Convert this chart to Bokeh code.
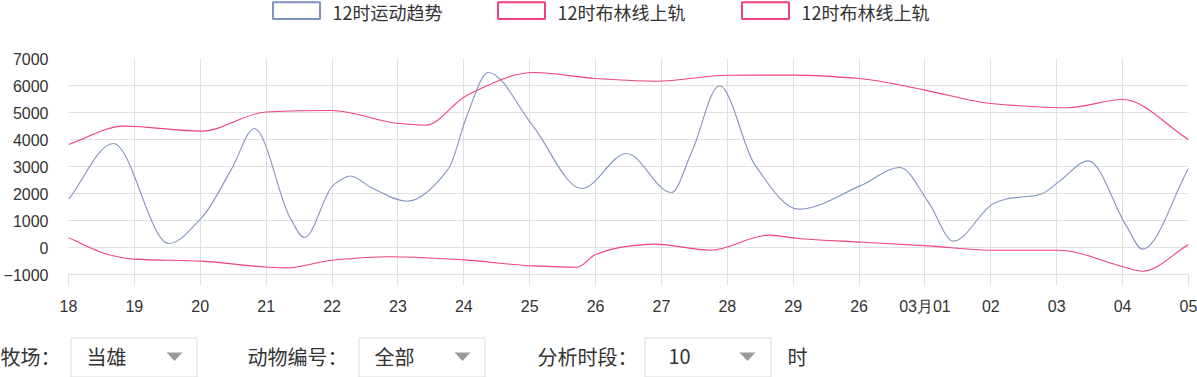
import numpy as np
from bokeh.plotting import figure
from bokeh.layouts import column
from bokeh.models import FixedTicker, Range1d, ColumnDataSource, Label, Plot
from bokeh.core.properties import value
from bokeh.embed import file_html
from bokeh.resources import INLINE

# ---------------- data ----------------
categories = ["18", "19", "20", "21", "22", "23", "24", "25", "26", "27", "28",
              "29", "26", "03月01", "02", "03", "04", "05"]
y_ticks = [-1000, 0, 1000, 2000, 3000, 4000, 5000, 6000, 7000]
y_tick_labels = ["−1000", "0", "1000", "2000", "3000", "4000", "5000", "6000", "7000"]

series_names = ["12时运动趋势", "12时布林线上轨", "12时布林线上轨"]
series_colors = ["#8093bf", "#f0407f", "#f0407f"]

# x positions are in category-index units
trend_x = [0.00, 0.68, 1.52, 2.02, 2.48, 2.82, 3.37, 3.58, 4.02, 4.28, 4.61, 5.14,
           5.77, 6.05, 6.37, 7.04, 7.79, 8.47, 9.15, 9.46, 9.88, 10.42, 11.08,
           12.04, 12.62, 13.05, 13.43, 14.04, 14.22, 14.75, 15.03, 15.48, 16.05,
           16.30, 17.00]
trend_y = [1780, 3850, 150, 1100, 2930, 4410, 1070, 370, 2310, 2650, 2200, 1715,
           2930, 4900, 6480, 4530, 2185, 3480, 2035, 3540, 5990, 3050, 1420,
           2310, 2965, 1690, 235, 1630, 1790, 1965, 2430, 3210, 830,
           -60, 2925]

upper_x = [0.00, 0.84, 2.02, 3.00, 4.00, 5.02, 5.42, 6.05, 7.06, 8.00, 8.93,
           10.00, 11.00, 12.00, 13.00, 14.00, 15.17, 16.00, 17.00]
upper_y = [3815, 4495, 4310, 5020, 5075, 4590, 4530, 5640, 6480, 6260, 6160,
           6380, 6385, 6260, 5830, 5335, 5175, 5480, 4000]

lower_x = [0.00, 0.64, 1.00, 2.02, 3.00, 3.30, 4.00, 4.88, 6.00, 7.00, 7.72,
           8.00, 8.50, 8.90, 9.74, 10.63, 11.06, 12.07, 13.05, 14.00, 15.03,
           16.01, 16.30, 17.00]
lower_y = [360, -285, -430, -505, -725, -755, -470, -345, -460, -675, -730,
           -260, 50, 125, -100, 460, 335, 195, 60, -100, -100,
           -715, -880, 110]

control_labels = ["牧场：", "动物编号：", "分析时段："]
control_values = ["当雄", "全部", "10"]
control_unit = "时"

CJK = "Noto Sans CJK SC"
TEXT = "#333333"
GRID = "#e0e0e0"

W, H = 1197, 377
FRAME_L, FRAME_R = 68, 1188
CAN_UNALIGN = "frame_align" in Plot.properties()


def smooth_segments(xs, ys):
    """Cubic Bezier control points (monotone Hermite tangents) through the data points."""
    xs = np.asarray(xs, float)
    ys = np.asarray(ys, float)
    h = np.diff(xs)
    d = np.diff(ys) / h
    n = len(xs)
    m = np.zeros(n)
    m[0], m[-1] = d[0], d[-1]
    for i in range(1, n - 1):
        if d[i - 1] * d[i] > 0:
            w1 = 2 * h[i] + h[i - 1]
            w2 = h[i] + 2 * h[i - 1]
            m[i] = (w1 + w2) / (w1 / d[i - 1] + w2 / d[i])
    return dict(x0=xs[:-1], y0=ys[:-1], x1=xs[1:], y1=ys[1:],
                cx0=xs[:-1] + h / 3, cy0=ys[:-1] + m[:-1] * h / 3,
                cx1=xs[1:] - h / 3, cy1=ys[1:] - m[1:] * h / 3)


def strip(h):
    if CAN_UNALIGN:
        f = figure(width=W, height=h, x_range=Range1d(0, W), y_range=Range1d(h, 0),
                   output_backend="svg", toolbar_location=None, min_border=0,
                   x_axis_location=None, y_axis_location=None)
        f.frame_align = False
    else:
        f = figure(width=W, height=h, x_range=Range1d(FRAME_L, FRAME_R), y_range=Range1d(h, 0),
                   output_backend="svg", toolbar_location=None, min_border=0,
                   min_border_left=FRAME_L, min_border_right=W - FRAME_R,
                   x_axis_location=None, y_axis_location=None)
    f.grid.visible = False
    f.outline_line_color = None
    f.background_fill_color = "white"
    f.border_fill_color = "white"
    return f


def add_texts(f, xs, ys, texts, size):
    for x, y, t in zip(xs, ys, texts):
        f.add_layout(Label(x=x, y=y, text=t, text_font=CJK, text_font_size=size,
                           text_color=TEXT, text_baseline="middle", text_align="left"))


# ---------------- legend strip ----------------
leg = strip(40)
leg_left = [272.5, 497.5, 741.5]
leg.quad(left=leg_left, right=[x + 47 for x in leg_left], top=[1.8] * 3, bottom=[18.5] * 3,
         fill_color="white", line_color=series_colors, line_width=2)
add_texts(leg, [332, 557, 801], [11.5] * 3, series_names, "18px")

# ---------------- main chart ----------------
p = figure(width=W, height=282, x_range=Range1d(0, len(categories) - 1),
           y_range=Range1d(y_ticks[0], y_ticks[-1]),
           output_backend="svg", toolbar_location=None,
           min_border_left=FRAME_L, min_border_right=W - FRAME_R,
           min_border_top=18, min_border_bottom=48)
if CAN_UNALIGN:
    p.frame_align = False
p.outline_line_color = None
p.background_fill_color = "white"

xt = FixedTicker(ticks=list(range(len(categories))))
yt = FixedTicker(ticks=y_ticks)
p.xaxis.ticker = xt
p.xgrid.ticker = xt
p.yaxis.ticker = yt
p.ygrid.ticker = yt
p.xaxis.major_label_overrides = {i: c for i, c in enumerate(categories)}
p.yaxis.major_label_overrides = {t: s for t, s in zip(y_ticks, y_tick_labels)}
p.grid.grid_line_color = GRID
p.grid.grid_line_width = 1

p.xaxis.axis_line_color = GRID
p.xaxis.major_tick_line_color = GRID
p.xaxis.major_tick_out = 11
p.xaxis.major_tick_in = 0
p.xaxis.minor_tick_line_color = None
p.xaxis.major_label_standoff = 12
p.xaxis.major_label_text_font = "Liberation Sans"
p.xaxis.major_label_text_font_size = "16px"
p.xaxis.major_label_text_color = TEXT

p.yaxis.axis_line_color = None
p.yaxis.major_tick_line_color = None
p.yaxis.minor_tick_line_color = None
p.yaxis.major_tick_out = 0
p.yaxis.major_tick_in = 0
p.yaxis.major_label_standoff = 20
p.yaxis.major_label_text_font = "Liberation Sans"
p.yaxis.major_label_text_font_size = "16px"
p.yaxis.major_label_text_color = TEXT

for (xs, ys), col in zip([(trend_x, trend_y), (upper_x, upper_y), (lower_x, lower_y)],
                         series_colors):
    src = ColumnDataSource(smooth_segments(xs, ys))
    p.bezier(x0="x0", y0="y0", x1="x1", y1="y1", cx0="cx0", cy0="cy0",
             cx1="cx1", cy1="cy1", source=src, line_color=col, line_width=1.1)

# ---------------- control strip ----------------
ctl = strip(55)
box_left = [70.5, 358.5, 644.5]
ctl.quad(left=box_left, right=[b + 126 for b in box_left], top=[15.5] * 3, bottom=[54.5] * 3,
         fill_color="white", line_color="#dddddd", line_width=1)
tri_cx = [174, 462, 747]
ctl.patches(xs=[[c - 8, c + 8, c] for c in tri_cx], ys=[[30, 30, 38.5] for _ in tri_cx],
            fill_color="#999999", line_color=None)
add_texts(ctl, [0, 247, 537, 787], [34] * 4, control_labels + [control_unit], "20px")
add_texts(ctl, [86, 374, 668], [34] * 3, control_values, "20px")

layout = column(leg, p, ctl, spacing=0)
open("out.html", "w").write(file_html(layout, INLINE))
